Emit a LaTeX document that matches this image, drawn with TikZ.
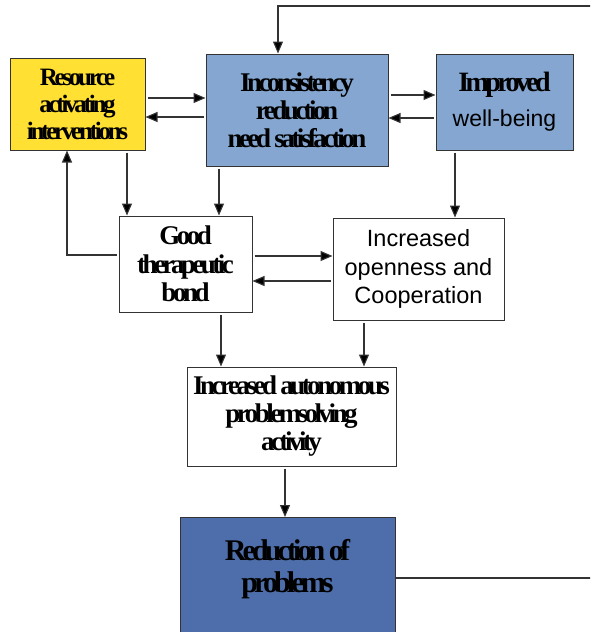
\documentclass[tikz,border=0pt]{standalone}
\usepackage{fontspec}
\setmainfont{Liberation Serif}
\newfontfamily\tightserif{Liberation Serif}[LetterSpace=-13]
\newfontfamily\plainsans{Liberation Sans}
\usetikzlibrary{arrows.meta}

\definecolor{resyellow}{HTML}{FFE033}
\definecolor{paleblue}{HTML}{84A6D0}
\definecolor{deepblue}{HTML}{4E6EAB}

\begin{document}
\begin{tikzpicture}[x=1pt,y=-1pt,
  box/.style={draw=black!80, line width=1pt, rectangle, inner sep=0pt, align=center},
  link/.style={draw=black!80, line width=1.1pt, shorten <=2pt,
    -{Triangle[length=12pt,width=10pt,fill=black]}}]
\useasboundingbox (0,0) rectangle (590,632);
\clip (0,0) rectangle (590,632);

% boxes
\node[box, fill=resyellow, minimum width=135, minimum height=92,
      font=\tightserif\bfseries\fontsize{25}{27}\selectfont]
  (res) at (77.5,104) {Resource\\activating\\interventions};
\node[box, fill=paleblue, minimum width=182, minimum height=112,
      font=\tightserif\bfseries\fontsize{27}{28}\selectfont]
  (inc) at (297,110) {Inconsistency\\reduction\\need satisfaction};
\node[box, fill=paleblue, minimum width=137, minimum height=96,
      font=\tightserif\bfseries\fontsize{28}{35}\selectfont]
  (imp) at (504.5,102) {Improved\\{\plainsans\mdseries\fontsize{23}{35}\selectfont well-being}};
\node[box, fill=white, minimum width=133, minimum height=96,
      font=\tightserif\bfseries\fontsize{27}{28.5}\selectfont]
  (good) at (185.5,264) {Good\\therapeutic\\bond};
\node[box, fill=white, minimum width=171, minimum height=102,
      font=\plainsans\fontsize{23.5}{28.5}\selectfont]
  (open) at (418.5,269) {Increased\\openness and\\Cooperation};
\node[box, fill=white, minimum width=209, minimum height=99,
      font=\tightserif\bfseries\fontsize{27}{28}\selectfont]
  (auto) at (291.5,416.5) {Increased autonomous\\problemsolving\\activity};
\node[box, fill=deepblue, minimum width=215, minimum height=140, anchor=north]
  (red) at (287.5,517) {};
\node[align=center, inner sep=0pt, font=\tightserif\bfseries\fontsize{30}{32}\selectfont]
  (redtext) at (287.5,569) {Reduction of\\problems};

% free corners of the feedback loop (outside the visible frame)
\coordinate (loopbr) at (600,578);
\coordinate (looptr) at (600,6);

% connectors
\draw[link] (res.east |- 0,98) -- (inc.west |- 0,98);
\draw[link] (inc.west |- 0,117) -- (res.east |- 0,117);
\draw[link] (inc.east |- 0,95) -- (imp.west |- 0,95);
\draw[link] (imp.west |- 0,118) -- (inc.east |- 0,118);
\draw[link] (res.south -| 127,0) -- (good.north -| 127,0);
\draw[link] (inc.south -| 219,0) -- (good.north -| 219,0);
\draw[link] (good.west |- 0,255) -| (res.south -| 67,0);
\draw[link] (imp.south -| 455,0) -- (open.north -| 455,0);
\draw[link] (good.east |- 0,256) -- (open.west |- 0,256);
\draw[link] (open.west |- 0,281) -- (good.east |- 0,281);
\draw[link] (good.south -| 221,0) -- (auto.north -| 221,0);
\draw[link] (open.south -| 364,0) -- (auto.north -| 364,0);
\draw[link] (auto.south -| 285,0) -- (red.north -| 285,0);
\draw[link, shorten <=0pt] (red.east |- 0,578) -- (loopbr) -- (looptr) -| (inc.north -| 278,0);
\end{tikzpicture}
\end{document}
